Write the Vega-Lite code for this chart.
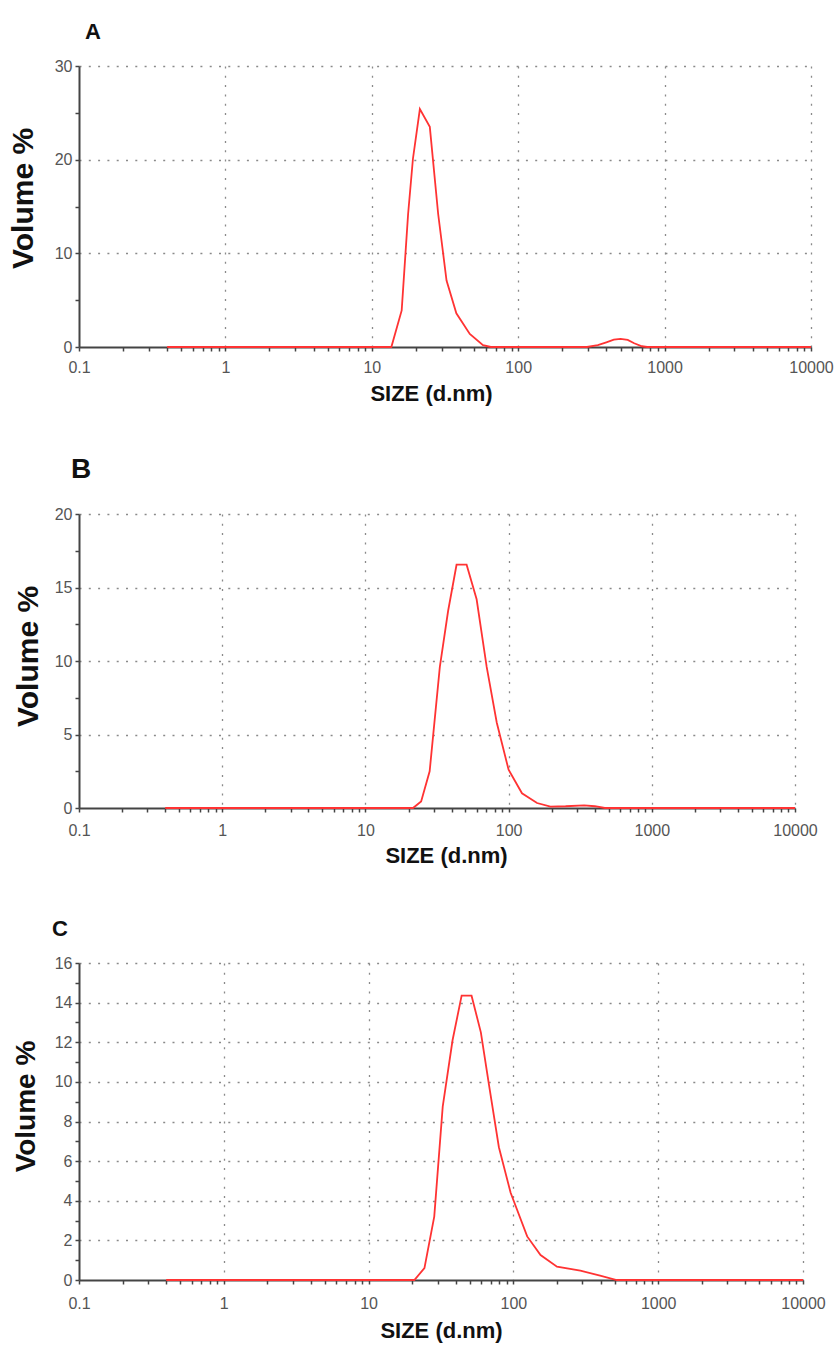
{
  "$schema": "https://vega.github.io/schema/vega-lite/v6.json",
  "padding": {"top": 21, "left": 8, "right": 2, "bottom": 2},
  "background": "white",
  "spacing": 52,
  "config": {
    "view": {"stroke": null},
    "axis": {
      "domainColor": "#444", "domainWidth": 2,
      "tickColor": "#444", "tickWidth": 1.5, "tickSize": 4,
      "gridColor": "#8a8a8a", "gridDash": [2, 7.3], "gridWidth": 1.3,
      "labelFont": "Liberation Sans", "labelFontSize": 16, "labelColor": "#555",
      "labelOverlap": false, "labelFlush": false, "labelPadding": 3,
      "titleFont": "Liberation Sans", "titleFontWeight": "bold", "titleColor": "#111"
    },
    "title": {"font": "Liberation Sans", "fontWeight": "bold", "fontSize": 22, "color": "#111", "anchor": "start", "frame": "group"}
  },
  "vconcat": [
    {
      "width": 732, "height": 281,
      "title": {"text": "A", "dx": 6, "offset": 14},
      "data": {"values": [
        {"size": 0.4, "vol": 0}, {"size": 13.6, "vol": 0}, {"size": 16.0, "vol": 3.9}, {"size": 17.7, "vol": 14.2},
        {"size": 19.1, "vol": 20.1}, {"size": 21.3, "vol": 25.4}, {"size": 24.9, "vol": 23.5}, {"size": 28.4, "vol": 14.2},
        {"size": 32.4, "vol": 7.1}, {"size": 37.8, "vol": 3.6}, {"size": 46.7, "vol": 1.4}, {"size": 57.5, "vol": 0.2},
        {"size": 65, "vol": 0}, {"size": 295, "vol": 0}, {"size": 350, "vol": 0.2}, {"size": 400, "vol": 0.5},
        {"size": 450, "vol": 0.78}, {"size": 500, "vol": 0.86}, {"size": 560, "vol": 0.75}, {"size": 620, "vol": 0.4},
        {"size": 700, "vol": 0.08}, {"size": 760, "vol": 0}, {"size": 10000, "vol": 0}
      ]},
      "mark": {"type": "line", "color": "#ff3333", "strokeWidth": 1.8},
      "encoding": {
        "x": {"field": "size", "type": "quantitative",
          "scale": {"type": "log", "domain": [0.1, 10000], "nice": false},
          "axis": {
            "values": [0.1,0.2,0.3,0.4,0.5,0.6,0.7,0.8,0.9,1,2,3,4,5,6,7,8,9,10,20,30,40,50,60,70,80,90,100,200,300,400,500,600,700,800,900,1000,2000,3000,4000,5000,6000,7000,8000,9000,10000],
            "labelExpr": "indexof([0.1,1,10,100,1000,10000], datum.value) >= 0 ? toString(datum.value) : ''",
            "gridOpacity": {"condition": {"test": "indexof([1,10,100,1000,10000], datum.value) >= 0", "value": 1}, "value": 0},
            "labelPadding": 8,
            "title": "SIZE (d.nm)", "titleFontSize": 22, "titlePadding": 8, "titleX": 352
          }},
        "y": {"field": "vol", "type": "quantitative",
          "scale": {"domain": [0, 30], "nice": false},
          "axis": {
            "values": [0,5,10,15,20,25,30],
            "labelExpr": "datum.value % 10 == 0 ? toString(datum.value) : ''",
            "gridOpacity": {"condition": {"test": "datum.value % 10 == 0 && datum.value > 0", "value": 1}, "value": 0},
            "title": "Volume %", "titleFontSize": 30, "titlePadding": 15.5, "titleY": 132
          }}
      }
    },
    {
      "width": 716, "height": 294,
      "title": {"text": "B", "dx": -8, "offset": 22, "fontSize": 28},
      "data": {"values": [
        {"size": 0.4, "vol": 0}, {"size": 21.5, "vol": 0}, {"size": 24.5, "vol": 0.45}, {"size": 28.1, "vol": 2.5},
        {"size": 33.1, "vol": 9.6}, {"size": 37.8, "vol": 13.4}, {"size": 43.3, "vol": 16.55}, {"size": 50.9, "vol": 16.55},
        {"size": 59.8, "vol": 14.2}, {"size": 70.3, "vol": 9.6}, {"size": 82.7, "vol": 5.8}, {"size": 100, "vol": 2.6},
        {"size": 124, "vol": 1.0}, {"size": 158, "vol": 0.34}, {"size": 196, "vol": 0.1}, {"size": 250, "vol": 0.12},
        {"size": 337, "vol": 0.18}, {"size": 400, "vol": 0.12}, {"size": 470, "vol": 0}, {"size": 10000, "vol": 0}
      ]},
      "mark": {"type": "line", "color": "#ff3333", "strokeWidth": 1.8},
      "encoding": {
        "x": {"field": "size", "type": "quantitative",
          "scale": {"type": "log", "domain": [0.1, 10000], "nice": false},
          "axis": {
            "values": [0.1,0.2,0.3,0.4,0.5,0.6,0.7,0.8,0.9,1,2,3,4,5,6,7,8,9,10,20,30,40,50,60,70,80,90,100,200,300,400,500,600,700,800,900,1000,2000,3000,4000,5000,6000,7000,8000,9000,10000],
            "labelExpr": "indexof([0.1,1,10,100,1000,10000], datum.value) >= 0 ? toString(datum.value) : ''",
            "gridOpacity": {"condition": {"test": "indexof([1,10,100,1000,10000], datum.value) >= 0", "value": 1}, "value": 0},
            "labelPadding": 10,
            "title": "SIZE (d.nm)", "titleFontSize": 22, "titlePadding": 7, "titleX": 367
          }},
        "y": {"field": "vol", "type": "quantitative",
          "scale": {"domain": [0, 20], "nice": false},
          "axis": {
            "values": [0,2.5,5,7.5,10,12.5,15,17.5,20],
            "labelExpr": "datum.value % 5 == 0 ? toString(datum.value) : ''",
            "gridOpacity": {"condition": {"test": "datum.value % 5 == 0 && datum.value > 0", "value": 1}, "value": 0},
            "title": "Volume %", "titleFontSize": 30, "titlePadding": 10.5, "titleY": 142
          }}
      }
    },
    {
      "width": 724, "height": 317,
      "title": {"text": "C", "dx": -27, "offset": 14},
      "data": {"values": [
        {"size": 0.4, "vol": 0}, {"size": 20.7, "vol": 0}, {"size": 24.3, "vol": 0.6}, {"size": 28.4, "vol": 3.2},
        {"size": 32.5, "vol": 8.75}, {"size": 38, "vol": 12.1}, {"size": 43.9, "vol": 14.35}, {"size": 51.4, "vol": 14.35},
        {"size": 59.6, "vol": 12.5}, {"size": 68, "vol": 9.8}, {"size": 79.4, "vol": 6.7}, {"size": 95.7, "vol": 4.4},
        {"size": 124.5, "vol": 2.2}, {"size": 154, "vol": 1.26}, {"size": 200, "vol": 0.67}, {"size": 290, "vol": 0.47},
        {"size": 397, "vol": 0.22}, {"size": 517, "vol": 0}, {"size": 10000, "vol": 0}
      ]},
      "mark": {"type": "line", "color": "#ff3333", "strokeWidth": 1.8},
      "encoding": {
        "x": {"field": "size", "type": "quantitative",
          "scale": {"type": "log", "domain": [0.1, 10000], "nice": false},
          "axis": {
            "values": [0.1,0.2,0.3,0.4,0.5,0.6,0.7,0.8,0.9,1,2,3,4,5,6,7,8,9,10,20,30,40,50,60,70,80,90,100,200,300,400,500,600,700,800,900,1000,2000,3000,4000,5000,6000,7000,8000,9000,10000],
            "labelExpr": "indexof([0.1,1,10,100,1000,10000], datum.value) >= 0 ? toString(datum.value) : ''",
            "gridOpacity": {"condition": {"test": "indexof([1,10,100,1000,10000], datum.value) >= 0", "value": 1}, "value": 0},
            "labelPadding": 11,
            "title": "SIZE (d.nm)", "titleFontSize": 22, "titlePadding": 9, "titleX": 362
          }},
        "y": {"field": "vol", "type": "quantitative",
          "scale": {"domain": [0, 16], "nice": false},
          "axis": {
            "values": [0,1,2,3,4,5,6,7,8,9,10,11,12,13,14,15,16],
            "labelExpr": "datum.value % 2 == 0 ? toString(datum.value) : ''",
            "gridOpacity": {"condition": {"test": "datum.value % 2 == 0 && datum.value > 0", "value": 1}, "value": 0},
            "title": "Volume %", "titleFontSize": 28, "titlePadding": 14, "titleY": 143
          }}
      }
    }
  ]
}
